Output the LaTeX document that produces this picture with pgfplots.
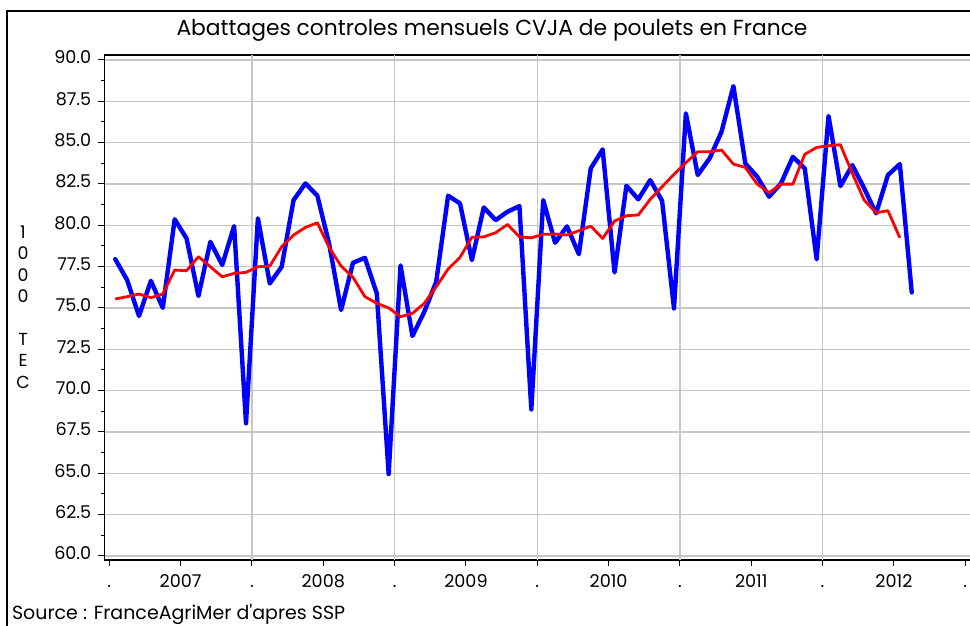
\documentclass[border=0pt]{standalone}
\usepackage{pgfplots}
\pgfplotsset{compat=1.18}
\usepackage{pgfplotstable}
\usepackage{fontspec}
\setmainfont{Poppins}

\pgfplotstableread{
m v
0.5 77.95
1.5 76.69
2.5 74.51
3.5 76.64
4.5 75.00
5.5 80.36
6.5 79.20
7.5 75.72
8.5 79.00
9.5 77.60
10.5 79.95
11.5 68.02
12.5 80.42
13.5 76.48
14.5 77.49
15.5 81.52
16.5 82.53
17.5 81.79
18.5 78.85
19.5 74.87
20.5 77.73
21.5 78.03
22.5 75.88
23.5 64.95
24.5 77.57
25.5 73.30
26.5 74.77
27.5 76.58
28.5 81.79
29.5 81.32
30.5 77.89
31.5 81.08
32.5 80.31
33.5 80.82
34.5 81.16
35.5 68.86
36.5 81.52
37.5 78.94
38.5 79.93
39.5 78.25
40.5 83.44
41.5 84.59
42.5 77.15
43.5 82.39
44.5 81.57
45.5 82.73
46.5 81.48
47.5 74.97
48.5 86.77
49.5 83.04
50.5 84.05
51.5 85.66
52.5 88.42
53.5 83.74
54.5 82.94
55.5 81.73
56.5 82.53
57.5 84.14
58.5 83.44
59.5 77.94
60.5 86.61
61.5 82.37
62.5 83.64
63.5 82.23
64.5 80.72
65.5 83.04
66.5 83.70
67.5 75.94
}\blue

\pgfplotstableread{
m v
0.5 75.54
1.5 75.68
2.5 75.84
3.5 75.62
4.5 75.84
5.5 77.29
6.5 77.25
7.5 78.10
8.5 77.49
9.5 76.88
10.5 77.09
11.5 77.15
12.5 77.49
13.5 77.53
14.5 78.70
15.5 79.41
16.5 79.87
17.5 80.15
18.5 78.65
19.5 77.53
20.5 76.85
21.5 75.68
22.5 75.28
23.5 75.00
24.5 74.47
25.5 74.67
26.5 75.28
27.5 76.28
28.5 77.35
29.5 78.06
30.5 79.27
31.5 79.30
32.5 79.55
33.5 80.05
34.5 79.30
35.5 79.24
36.5 79.45
37.5 79.47
38.5 79.41
39.5 79.67
40.5 79.95
41.5 79.20
42.5 80.25
43.5 80.58
44.5 80.62
45.5 81.57
46.5 82.33
47.5 83.08
48.5 83.78
49.5 84.45
50.5 84.45
51.5 84.55
52.5 83.70
53.5 83.50
54.5 82.49
55.5 81.97
56.5 82.49
57.5 82.49
58.5 84.29
59.5 84.71
60.5 84.81
61.5 84.87
62.5 83.14
63.5 81.52
64.5 80.76
65.5 80.88
66.5 79.24
}\red

\begin{document}
\begin{tikzpicture}
\useasboundingbox (0,0) rectangle (485pt,-313pt);
\fill[white] (0,0) rectangle (485pt,-313pt);
% outer frame (left and top visible)
\draw[black, line width=1.3pt] (3.5pt,-320pt) -- (3.5pt,-5.5pt) -- (490pt,-5.5pt);
% title
\node[font=\fontsize{10.9}{12}\selectfont] at (246pt,-15pt) {Abattages controles mensuels CVJA de poulets en France};
% y label
\node[font=\fontsize{8.7}{10.7}\selectfont, align=center] at (11.5pt,-153.5pt) {1\\0\\0\\0\\\strut\\T\\E\\C};
% source
\node[font=\fontsize{9.5}{11}\selectfont, anchor=base west] at (2.5pt,-309.5pt) {Source : FranceAgriMer d\textquotesingle apres SSP};
\begin{axis}[
  at={(52.15pt,-27.5pt)}, anchor=north west,
  scale only axis, width=432.85pt, height=252.5pt,
  xmin=-0.42, xmax=72.4, ymin=59.75, ymax=90.3,
  axis x line*=box, axis y line*=left,
  axis line style={black, line width=0.7pt},
  xtick={0,6,...,72},
  xticklabels={.,2007,.,2008,.,2009,.,2010,.,2011,.,2012,.},
  xtick pos=left,
  typeset ticklabels with strut,
  ytick={60,62.5,...,90},
  minor y tick num=1,
  tick align=outside,
  major tick length=3pt, minor tick length=1.5pt,
  tick style={black, line width=0.5pt},
  yticklabel style={/pgf/number format/.cd, fixed, fixed zerofill, precision=1},
  /pgf/number format/assume math mode=true,
  ticklabel style={font=\fontsize{8.8}{10}\selectfont},
  ymajorgrids,
  grid style={gray!45, line width=0.7pt},
  extra x ticks={12,24,36,48,60},
  extra x tick labels={},
  extra x tick style={grid=major, major tick length=0pt},
  clip=true,
]
\addplot[blue, line width=2.2pt, line join=round, line cap=round] table[x=m,y=v] {\blue};
\addplot[red, line width=1.4pt, line join=round] table[x=m,y=v] {\red};
\end{axis}
\end{tikzpicture}
\end{document}
